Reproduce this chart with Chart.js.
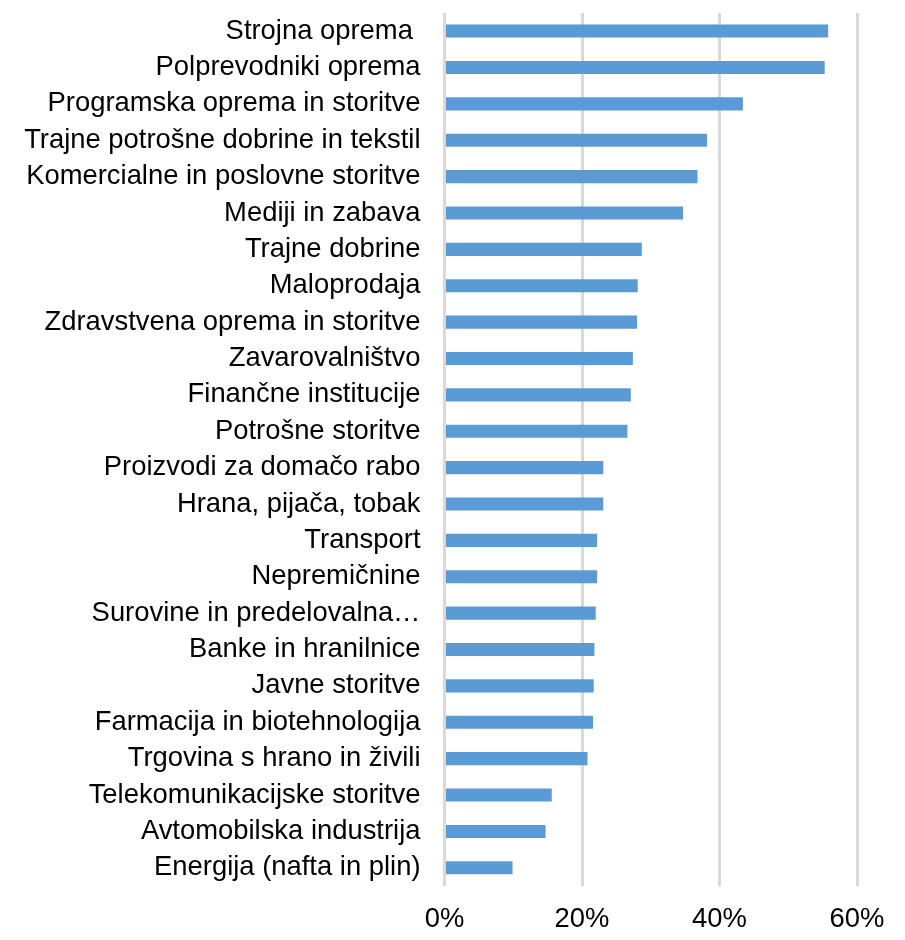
<!DOCTYPE html>
<html lang="sl">
<head>
<meta charset="UTF-8">
<title>Sektorji</title>
<script src="https://cdn.jsdelivr.net/npm/chart.js"></script>
<style>
  html, body { margin: 0; padding: 0; background: #fff; }
  .chart-container { position: relative; width: 905px; height: 940px; }
</style>
</head>
<body>
<div class="chart-container">
  <canvas id="graf"></canvas>
</div>
<script>
// kategorije (od zgoraj navzdol)
const sektorji = [
  'Strojna oprema ',
  'Polprevodniki oprema',
  'Programska oprema in storitve',
  'Trajne potrošne dobrine in tekstil',
  'Komercialne in poslovne storitve',
  'Mediji in zabava',
  'Trajne dobrine',
  'Maloprodaja',
  'Zdravstvena oprema in storitve',
  'Zavarovalništvo',
  'Finančne institucije',
  'Potrošne storitve',
  'Proizvodi za domačo rabo',
  'Hrana, pijača, tobak',
  'Transport',
  'Nepremičnine',
  'Surovine in predelovalna…',
  'Banke in hranilnice',
  'Javne storitve',
  'Farmacija in biotehnologija',
  'Trgovina s hrano in živili',
  'Telekomunikacijske storitve',
  'Avtomobilska industrija',
  'Energija (nafta in plin)'
];
// vrednosti v %
const vrednosti = [
  55.8, 55.3, 43.4, 38.2, 36.8, 34.7, 28.7, 28.1, 28.0, 27.4, 27.1, 26.6,
  23.1, 23.1, 22.2, 22.2, 22.0, 21.8, 21.7, 21.6, 20.8, 15.6, 14.7, 9.9
];
const osMin = 0;
const osMax = 60;
const osKorak = 20;

const druzina = "'Liberation Sans', Arial, sans-serif";

document.addEventListener('DOMContentLoaded', function () {
  const ctx = document.getElementById('graf').getContext('2d');
  new Chart(ctx, {
    type: 'bar',
    data: {
      labels: sektorji,
      datasets: [{
        data: vrednosti,
        backgroundColor: '#5b9bd5',
        borderWidth: 0,
        barPercentage: 0.36,
        categoryPercentage: 1
      }]
    },
    options: {
      indexAxis: 'y',
      responsive: true,
      maintainAspectRatio: false,
      animation: false,
      layout: { padding: { top: 12, right: 48, bottom: 0, left: 0 } },
      plugins: {
        legend: { display: false },
        tooltip: { enabled: false }
      },
      scales: {
        x: {
          min: osMin,
          max: osMax,
          ticks: {
            stepSize: osKorak,
            color: '#000',
            font: { family: druzina, size: 27.4 },
            padding: 17,
            callback: v => v + '%'
          },
          grid: { color: '#d9d9d9', lineWidth: 3, drawTicks: false },
          border: { display: false },
          afterFit: s => { s.height = 54; }
        },
        y: {
          ticks: {
            color: '#000',
            font: { family: druzina, size: 27.4, lineHeight: 0.94 },
            padding: 0,
            autoSkip: false
          },
          grid: { display: false, drawTicks: true, tickLength: 24 },
          border: { display: false },
          afterFit: s => { s.width = 444.5; }
        }
      }
    }
  });
});
</script>
</body>
</html>
